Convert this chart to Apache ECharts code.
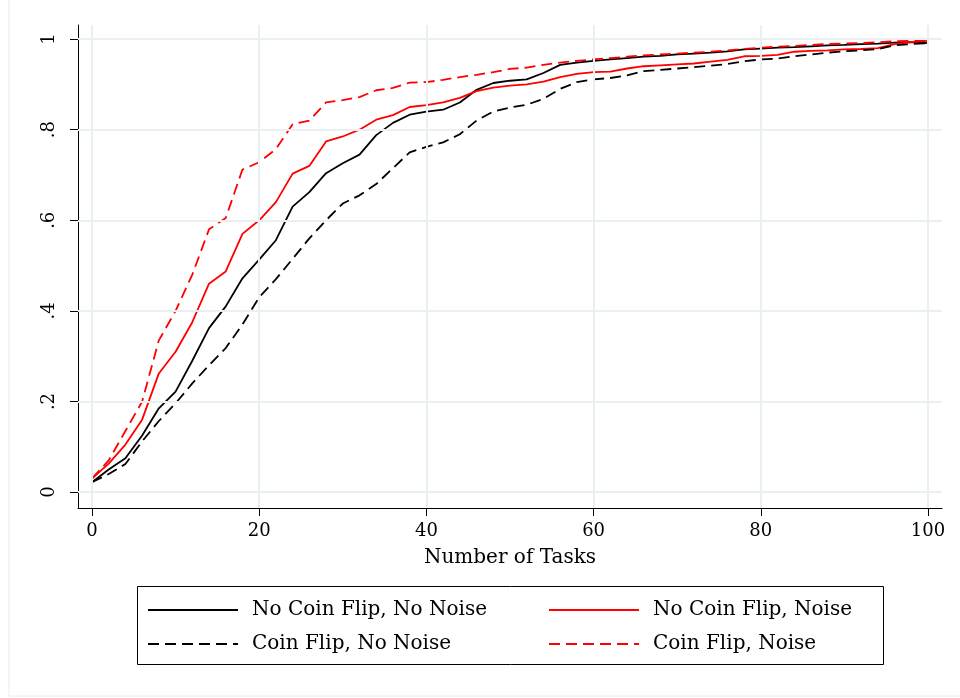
<!DOCTYPE html>
<html>
<head>
<meta charset="utf-8">
<title>Number of Tasks</title>
<script src="https://cdn.jsdelivr.net/npm/echarts@6/dist/echarts.min.js"></script>
<style>
  html, body { margin: 0; padding: 0; background: #fff; }
  #chart { width: 960px; height: 698px; }
</style>
</head>
<body>
<div id="chart"></div>
<script>
// x positions (number of tasks)
const tasks = []
for (let t = 0; t <= 100; t += 2) tasks.push(t)

// share
const noFlipNoNoise = [
  0.022, 0.05, 0.075, 0.125, 0.185, 0.222, 0.29, 0.362, 0.41, 0.472,
  0.513, 0.556, 0.63, 0.662, 0.704, 0.726, 0.745, 0.788, 0.815, 0.833,
  0.84, 0.844, 0.86, 0.888, 0.903, 0.908, 0.911, 0.925, 0.943, 0.948,
  0.952, 0.955, 0.958, 0.961, 0.963, 0.966, 0.968, 0.97, 0.973, 0.977,
  0.979, 0.981, 0.982, 0.984, 0.986, 0.987, 0.989, 0.99, 0.992, 0.993, 0.991
]
const noFlipNoise = [
  0.03, 0.063, 0.105, 0.16, 0.262, 0.31, 0.375, 0.46, 0.487, 0.57,
  0.6, 0.64, 0.703, 0.72, 0.774, 0.785, 0.8, 0.822, 0.832, 0.85,
  0.854, 0.86, 0.87, 0.885, 0.893, 0.897, 0.9, 0.906, 0.916, 0.923,
  0.927, 0.928, 0.935, 0.94, 0.942, 0.944, 0.946, 0.95, 0.954, 0.962,
  0.963, 0.965, 0.972, 0.974, 0.975, 0.977, 0.978, 0.98, 0.989, 0.993, 0.996
]
const flipNoNoise = [
  0.022, 0.04, 0.062, 0.112, 0.157, 0.196, 0.24, 0.28, 0.318, 0.37,
  0.43, 0.47, 0.515, 0.56, 0.6, 0.637, 0.655, 0.68, 0.715, 0.75,
  0.762, 0.772, 0.79, 0.82, 0.84, 0.849, 0.855, 0.868, 0.89, 0.905,
  0.911, 0.914, 0.92, 0.929, 0.932, 0.935, 0.938, 0.941, 0.945, 0.951,
  0.955, 0.957, 0.962, 0.966, 0.97, 0.973, 0.975, 0.978, 0.986, 0.989, 0.991
]
const flipNoise = [
  0.03, 0.07, 0.135, 0.2, 0.335, 0.4, 0.48, 0.58, 0.605, 0.712,
  0.728, 0.757, 0.812, 0.82, 0.86, 0.865, 0.872, 0.887, 0.892, 0.904,
  0.905, 0.91, 0.916, 0.921, 0.927, 0.934, 0.937, 0.943, 0.948, 0.952,
  0.955, 0.958, 0.961, 0.964, 0.966, 0.968, 0.97, 0.972, 0.975, 0.978,
  0.981, 0.983, 0.985, 0.987, 0.989, 0.99, 0.991, 0.993, 0.995, 0.996, 0.997
]

const xTicks = [0, 20, 40, 60, 80, 100]
const yTicks = [0, 0.2, 0.4, 0.6, 0.8, 1]

const FONT = 'DejaVu Serif'
const GRID_COLOR = '#e9f0f2'
const DASH = [11, 6]

function pairs(vals) {
  return tasks.map((t, i) => [t, vals[i]])
}

const chart = echarts.init(document.getElementById('chart'), null, { renderer: 'canvas' })

function lineSeries(name, vals, color, dashed) {
  return {
    name: name,
    type: 'line',
    data: pairs(vals),
    symbol: 'none',
    showSymbol: false,
    z: 3,
    color: color,
    lineStyle: { color: color, width: 1.8, type: dashed ? DASH : 'solid' }
  }
}

function oneLegend(name, left, top) {
  return {
    data: [name],
    left: left,
    top: top,
    padding: 0,
    itemWidth: 90,
    itemHeight: 20,
    selectedMode: false,
    itemStyle: { opacity: 0 },
    textStyle: { fontFamily: FONT, fontSize: 20, color: '#000', padding: [0, 0, 0, 9] }
  }
}

chart.setOption({
  animation: false,
  backgroundColor: '#fff',
  graphic: [
    {
      type: 'rect',
      shape: { x: 9, y: -4, width: 960, height: 700 },
      style: { fill: 'none', stroke: '#e6ecee', lineWidth: 1 },
      silent: true
    },
    {
      type: 'rect',
      shape: { x: 137.5, y: 586.5, width: 746, height: 78 },
      style: { fill: '#fff', stroke: '#000', lineWidth: 1 },
      silent: true,
      z: 0
    }
  ],
  grid: { left: 78, right: 18, top: 25, bottom: 190 },
  xAxis: {
    type: 'value',
    min: -1.67,
    max: 101.67,
    name: 'Number of Tasks',
    nameLocation: 'middle',
    nameGap: 40,
    nameTextStyle: { fontFamily: FONT, fontSize: 20, color: '#000' },
    axisLine: { show: true, onZero: false, lineStyle: { color: '#000', width: 1 } },
    axisTick: { show: true, length: 8, customValues: xTicks, lineStyle: { color: '#000' } },
    axisLabel: {
      customValues: xTicks,
      margin: 14,
      fontFamily: FONT,
      fontSize: 18,
      color: '#000'
    },
    splitLine: { show: false }
  },
  yAxis: {
    type: 'value',
    min: -0.035,
    max: 1.031,
    axisLine: { show: true, onZero: false, lineStyle: { color: '#000', width: 1 } },
    axisTick: { show: true, length: 8, customValues: yTicks, lineStyle: { color: '#000' } },
    axisLabel: {
      customValues: yTicks,
      rotate: 90,
      margin: 20,
      fontFamily: FONT,
      fontSize: 18,
      color: '#000',
      formatter: function(v) {
        if (v === 0 || v === 1) return String(v)
        return String(+v.toFixed(1)).replace('0.', '.')
      }
    },
    splitLine: { show: false }
  },
  legend: [
    oneLegend('No Coin Flip, No Noise', 147, 600),
    oneLegend('No Coin Flip, Noise', 548, 600),
    oneLegend('Coin Flip, No Noise', 147, 634),
    oneLegend('Coin Flip, Noise', 548, 634)
  ],
  series: [
    {
      // grid lines only
      name: 'grid',
      type: 'line',
      data: [],
      z: 1,
      markLine: {
        silent: true,
        symbol: ['none', 'none'],
        label: { show: false },
        animation: false,
        lineStyle: { color: GRID_COLOR, width: 2, type: 'solid' },
        data: xTicks.map(v => ({ xAxis: v })).concat(yTicks.map(v => ({ yAxis: v })))
      }
    },
    lineSeries('No Coin Flip, No Noise', noFlipNoNoise, '#000000', false),
    lineSeries('No Coin Flip, Noise', noFlipNoise, '#ff0000', false),
    lineSeries('Coin Flip, No Noise', flipNoNoise, '#000000', true),
    lineSeries('Coin Flip, Noise', flipNoise, '#ff0000', true)
  ]
})
</script>
</body>
</html>
